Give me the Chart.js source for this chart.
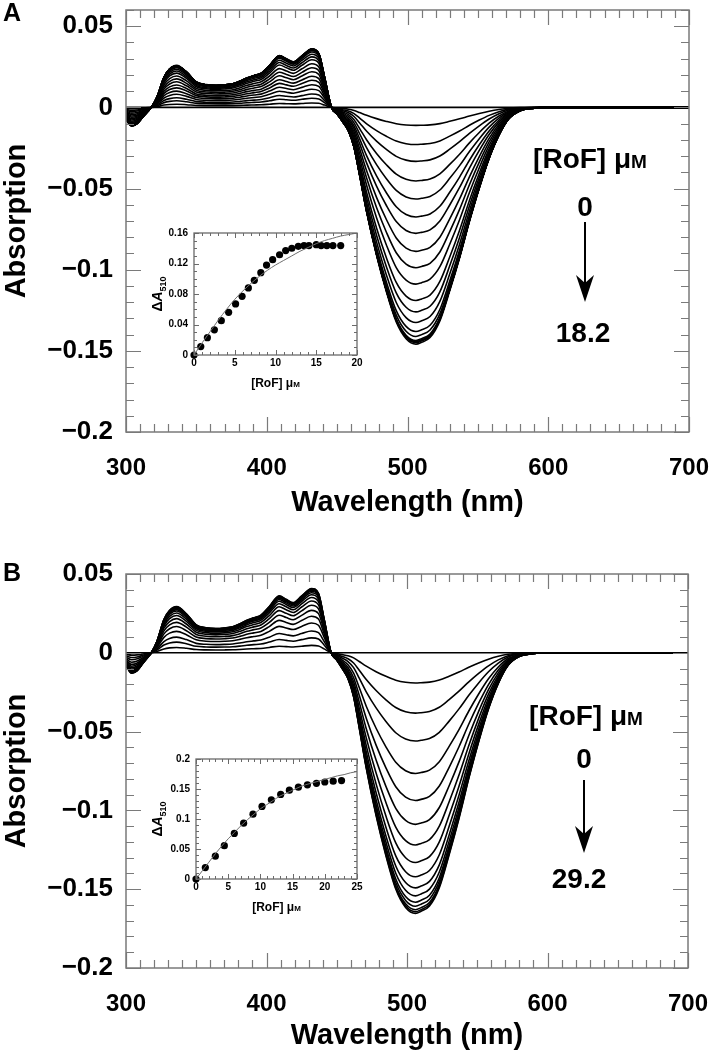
<!DOCTYPE html>
<html>
<head>
<meta charset="utf-8">
<script src="https://cdn.jsdelivr.net/npm/chart.js@4.4.1/dist/chart.umd.min.js"></script>
<style>
  body{margin:0;background:#fff;}
  #wrap{position:relative;width:709px;height:1050px;overflow:hidden;}
  canvas{position:absolute;}
</style>
</head>
<body>
<div id="wrap">
  <canvas id="mainA" width="709" height="520" style="left:0;top:0;width:709px;height:520px"></canvas>
  <canvas id="mainB" width="709" height="530" style="left:0;top:520px;width:709px;height:530px"></canvas>
  <canvas id="insetA" width="240" height="180" style="left:130px;top:220px;width:240px;height:180px"></canvas>
  <canvas id="insetB" width="240" height="180" style="left:130px;top:745px;width:240px;height:180px"></canvas>
</div>
<script>
/* =====================================
   DATA
===================================== */

// wavelength grid of the difference spectra (nm)
const wavelengths = [
  300,304,308,312,316,318,322,327,331,336,343,350,357,364,370,376,381,386,391,396,
  402,409,414,419,425,432,437,441,446,450,454,458,462,466,471,478,485,492,499,506,
  510,516,523,530,537,544,551,558,565,572,580,590,600,650,700
];

// difference spectrum shape, scaled so that dA at 510 nm = -1
const bandShape = [
  -0.050,-0.079,-0.069,-0.041,-0.014,0,0.044,0.129,0.164,0.179,0.151,0.108,0.097,0.094,0.096,0.101,0.112,0.126,0.136,0.146,
  0.179,0.221,0.207,0.194,0.220,0.249,0.230,0.131,0,-0.028,-0.062,-0.100,-0.170,-0.290,-0.446,-0.630,-0.785,-0.914,-0.985,-1.008,
  -1.000,-0.980,-0.909,-0.781,-0.641,-0.486,-0.344,-0.217,-0.118,-0.048,-0.014,-0.003,0,0,0
];

// panel A titration: [RoF] (uM) and dA510
const concA = [0,0.83,1.64,2.5,3.35,4.25,5.1,5.9,6.67,7.4,8.2,8.9,9.65,10.5,11.25,12.0,12.8,13.5,14.1,15.0,15.6,16.3,17.05,18.0];
const dA510A = [0,0.011,0.0227,0.033,0.045,0.056,0.067,0.077,0.088,0.098,0.108,0.118,0.125,0.1315,0.137,0.140,0.1425,0.1435,0.1435,0.1447,0.1435,0.1435,0.1435,0.1435];
const fitAx = [0,1,2,3,4,5,6,7,8,9,10,11,12,13,14,15,16,17,18,19,20];
const fitAy = [0,0.016,0.031,0.046,0.060,0.073,0.084,0.094,0.103,0.111,0.118,0.124,0.130,0.136,0.141,0.146,0.150,0.153,0.156,0.158,0.160];

// panel B titration
const concB = [0,1.45,3.0,4.4,5.95,7.4,8.85,10.25,11.7,13.15,14.5,15.9,17.3,18.7,20.0,21.3,22.6];
const dA510B = [0,0.019,0.038,0.0555,0.076,0.093,0.108,0.121,0.132,0.141,0.148,0.153,0.157,0.1595,0.1617,0.163,0.164];
const fitBx = [0,1,2,3,4,5,6,7,8,9,10,11,12,13,14,15,16,17,18,19,20,21,22,23,24,25];
const fitBy = [0,0.014,0.028,0.042,0.055,0.067,0.078,0.089,0.099,0.108,0.117,0.124,0.131,0.138,0.143,0.148,0.153,0.157,0.160,0.163,0.166,0.169,0.172,0.174,0.177,0.179];

// tick labels
const mainYTicks = [-0.2,-0.15,-0.1,-0.05,0,0.05];
const insetAYTicks = [0,0.04,0.08,0.12,0.16];
const insetBYTicks = [0,0.05,0.1,0.15,0.2];

/* =====================================
   HELPERS
===================================== */

const FONT = "'Liberation Sans', Arial, sans-serif";
Chart.defaults.font.family = FONT;
Chart.defaults.color = "#000";

function fmt(v){
  if(Math.abs(v) < 1e-9) return "0";
  return (v < 0 ? "\u2212" : "") + String(+Math.abs(v).toFixed(3));
}

// inward ticks on all four sides + frame
function drawFrame(chart, o){
  const {ctx, chartArea:a, scales:{x, y}} = chart;
  ctx.save();
  ctx.strokeStyle = o.color;
  ctx.lineWidth = o.width;
  ctx.beginPath();
  const nx = Math.round((x.max - x.min) / o.xMinor);
  for(let k = 0; k <= nx; k++){
    const v = x.min + k * o.xMinor;
    const r = v / o.xMajor;
    const len = Math.abs(r - Math.round(r)) < 1e-6 ? o.majorLen : o.minorLen;
    const px = Math.round(x.getPixelForValue(v)) + 0.5;
    ctx.moveTo(px, a.bottom); ctx.lineTo(px, a.bottom - len);
    ctx.moveTo(px, a.top); ctx.lineTo(px, a.top + len);
  }
  const ny = Math.round((y.max - y.min) / o.yMinor);
  for(let k = 0; k <= ny; k++){
    const v = y.min + k * o.yMinor;
    const r = v / o.yMajor;
    const len = Math.abs(r - Math.round(r)) < 1e-6 ? o.majorLen : o.minorLen;
    const py = Math.round(y.getPixelForValue(v)) + 0.5;
    ctx.moveTo(a.left, py); ctx.lineTo(a.left + len, py);
    ctx.moveTo(a.right, py); ctx.lineTo(a.right - len, py);
  }
  ctx.stroke();
  ctx.lineWidth = o.width + 0.3;
  ctx.strokeRect(a.left, a.top, a.right - a.left, a.bottom - a.top);
  ctx.restore();
}

// "[RoF] μM" with the small capital M
function drawRoF(ctx, cx, cy, size){
  const big = "bold " + size + "px " + FONT;
  const small = "bold " + Math.round(size * 0.68) + "px " + FONT;
  ctx.font = big;
  const w1 = ctx.measureText("[RoF] \u03bc").width;
  ctx.font = small;
  const w2 = ctx.measureText("M").width;
  const x0 = cx - (w1 + w2) / 2;
  ctx.textBaseline = "alphabetic";
  ctx.textAlign = "left";
  ctx.font = big;
  ctx.fillText("[RoF] \u03bc", x0, cy + size * 0.36);
  ctx.font = small;
  ctx.fillText("M", x0 + w1, cy + size * 0.36);
}

/* =====================================
   MAIN SPECTRA PANELS
===================================== */

function mainChart(id, amps, yMax, padTop, padRight, axisH, titlePad, notes){

  const datasets = amps.map(a => ({
    data: wavelengths.map((w, j) => ({x: w, y: bandShape[j] * a})),
    borderColor: "#000",
    borderWidth: 1.6,
    pointRadius: 0,
    cubicInterpolationMode: "monotone",
    fill: false
  }));

  const notesPlugin = {
    id: "notes",
    afterDraw(chart){
      const ctx = chart.ctx;
      ctx.save();
      ctx.fillStyle = "#000";
      ctx.strokeStyle = "#000";
      ctx.font = "bold 25px " + FONT;
      ctx.textAlign = "left";
      ctx.textBaseline = "middle";
      ctx.fillText(notes.letter, 3, notes.letterY);

      drawRoF(ctx, notes.rof[0], notes.rof[1], 28);

      ctx.font = "bold 28px " + FONT;
      ctx.textAlign = "center";
      ctx.textBaseline = "middle";
      ctx.fillText("0", notes.zero[0], notes.zero[1]);
      ctx.fillText(notes.endText, notes.end[0], notes.end[1]);

      const [ax, y1, tip] = notes.arrow;
      ctx.lineWidth = 2;
      ctx.beginPath();
      ctx.moveTo(ax, y1);
      ctx.lineTo(ax, tip - 12);
      ctx.stroke();
      ctx.beginPath();
      ctx.moveTo(ax, tip);
      ctx.lineTo(ax - 9, tip - 27);
      ctx.lineTo(ax, tip - 19);
      ctx.lineTo(ax + 9, tip - 27);
      ctx.closePath();
      ctx.fill();
      ctx.restore();
    }
  };

  const framePlugin = {
    id: "frame",
    afterDatasetsDraw(chart){
      drawFrame(chart, {color:"#7a7a7a", width:1.2, xMinor:10, xMajor:100, yMinor:0.01, yMajor:0.05, minorLen:8, majorLen:15});
    }
  };

  return new Chart(document.getElementById(id), {
    type: "line",
    data: {datasets},
    options: {
      responsive: false,
      animation: false,
      events: [],
      layout: {padding: {top: padTop, right: padRight, left: 0, bottom: 0}},
      plugins: {legend: {display: false}, tooltip: {enabled: false}},
      scales: {
        x: {
          type: "linear", min: 300, max: 700,
          grid: {display: false, drawTicks: false},
          border: {display: false},
          ticks: {stepSize: 100, padding: 22, maxRotation: 0, autoSkip: false, color: "#000",
                  font: {size: 24, weight: "bold"}},
          title: {display: true, text: "Wavelength (nm)", color: "#000",
                  font: {size: 29, weight: "bold", lineHeight: 1.0}, padding: {top: 0, bottom: titlePad}},
          afterFit(s){ s.height = axisH; s.paddingLeft = 0; s.paddingRight = 0; }
        },
        y: {
          type: "linear", min: -0.2, max: yMax,
          grid: {display: false, drawTicks: false},
          border: {display: false},
          afterBuildTicks(s){ s.ticks = mainYTicks.map(v => ({value: v})); },
          ticks: {padding: 13, color: "#000", font: {size: 26, weight: "bold"}, callback: v => fmt(v)},
          title: {display: true, text: "Absorption", color: "#000",
                  font: {size: 29, weight: "bold"}, padding: {top: 0, bottom: 0}},
          afterFit(s){ s.width = 126; s.paddingTop = 0; s.paddingBottom = 0; }
        }
      }
    },
    plugins: [framePlugin, notesPlugin]
  });
}

/* =====================================
   INSETS (dA510 vs [RoF])
===================================== */

function insetChart(id, conc, dA, fx, fy, xMax, yMax, yMajor, yTicks, leftW, padTop, axisH, titleY){

  const framePlugin = {
    id: "insetFrame",
    afterDatasetsDraw(chart){
      drawFrame(chart, {color:"#6a6a6a", width:1, xMinor:1, xMajor:5, yMinor:0.01, yMajor:yMajor, minorLen:3, majorLen:5});
    },
    afterDraw(chart){
      const {ctx, chartArea:a} = chart;
      ctx.save();
      ctx.fillStyle = "#000";
      drawRoF(ctx, (a.left + a.right) / 2, titleY, 12);

      // rotated y title: ΔA with subscript 510
      const cy = (a.top + a.bottom) / 2;
      ctx.translate(27, cy);
      ctx.rotate(-Math.PI / 2);
      const f1 = "bold 14px " + FONT, f2 = "italic bold 14px " + FONT, f3 = "bold 9px " + FONT;
      ctx.font = f1; const w1 = ctx.measureText("\u0394").width;
      ctx.font = f2; const w2 = ctx.measureText("A").width;
      ctx.font = f3; const w3 = ctx.measureText("510").width;
      let xx = -(w1 + w2 + w3) / 2;
      ctx.textBaseline = "alphabetic";
      ctx.textAlign = "left";
      ctx.font = f1; ctx.fillText("\u0394", xx, 5); xx += w1;
      ctx.font = f2; ctx.fillText("A", xx, 5); xx += w2;
      ctx.font = f3; ctx.fillText("510", xx, 9);
      ctx.restore();
    }
  };

  return new Chart(document.getElementById(id), {
    type: "scatter",
    data: {
      datasets: [
        {
          type: "line",
          data: fx.map((x, i) => ({x, y: fy[i]})),
          borderColor: "#6e6e6e",
          borderWidth: 1,
          pointRadius: 0,
          cubicInterpolationMode: "monotone",
          fill: false
        },
        {
          data: conc.map((c, i) => ({x: c, y: dA[i]})),
          backgroundColor: "#000",
          borderColor: "#000",
          pointRadius: 3.6,
          borderWidth: 0,
          clip: false
        }
      ]
    },
    options: {
      responsive: false,
      animation: false,
      events: [],
      layout: {padding: {top: padTop, right: 13, left: 0, bottom: 0}},
      plugins: {legend: {display: false}, tooltip: {enabled: false}},
      scales: {
        x: {
          type: "linear", min: 0, max: xMax,
          grid: {display: false, drawTicks: false},
          border: {display: false},
          ticks: {stepSize: 5, padding: 2, maxRotation: 0, autoSkip: false, color: "#000",
                  font: {size: 10, weight: "bold"}},
          afterFit(s){ s.height = axisH; s.paddingLeft = 0; s.paddingRight = 0; }
        },
        y: {
          type: "linear", min: 0, max: yMax,
          grid: {display: false, drawTicks: false},
          border: {display: false},
          afterBuildTicks(s){ s.ticks = yTicks.map(v => ({value: v})); },
          ticks: {padding: 6, color: "#000", font: {size: 10, weight: "bold"}, callback: v => fmt(v)},
          afterFit(s){ s.width = leftW; s.paddingTop = 0; s.paddingBottom = 0; }
        }
      }
    },
    plugins: [framePlugin]
  });
}

/* =====================================
   BUILD
===================================== */

mainChart("mainA", dA510A, 0.06, 10, 20, 88, 3, {
  letter: "A", letterY: 14,
  rof: [590, 158], zero: [585, 208], arrow: [585, 222, 302], end: [583, 334], endText: "18.2"
});

mainChart("mainB", dA510B, 0.05, 54, 21, 82, 0, {
  letter: "B", letterY: 54,
  rof: [586, 195], zero: [584, 240], arrow: [584, 260, 333], end: [579, 360], endText: "29.2"
});

insetChart("insetA", concA, dA510A, fitAx, fitAy, 20, 0.16, 0.04, insetAYTicks, 64, 13, 45, 163);
insetChart("insetB", concB, dA510B, fitBx, fitBy, 25, 0.2, 0.05, insetBYTicks, 66, 14, 46, 162);
</script>
</body>
</html>
